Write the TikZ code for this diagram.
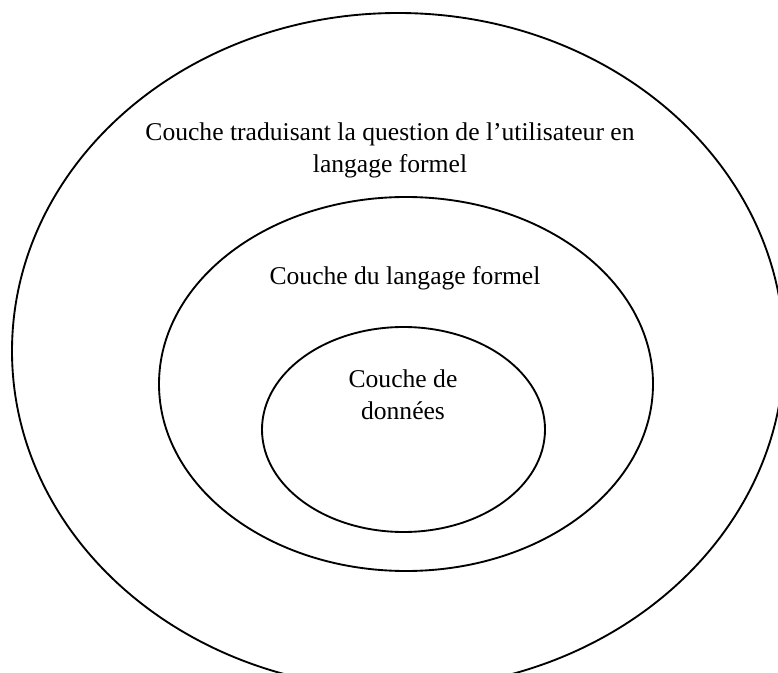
\documentclass[tikz,border=0pt]{standalone}
\usepackage{fontspec}
\setmainfont{Liberation Serif}
\usetikzlibrary{shapes.geometric}

\begin{document}
\begin{tikzpicture}[x=0.75pt,y=-0.75pt,
        layer/.style={ellipse,draw=black,line width=1.4pt,inner sep=0pt},
        label node/.style={align=center,font=\fontsize{19.2}{24}\selectfont}]

    \useasboundingbox (0,0) rectangle (778,673);
    \clip (0,0) rectangle (778,673);

    \node[layer, minimum width=579pt, minimum height=507pt] (C0) at (398,351) {};
    \node[layer, minimum width=370.5pt, minimum height=280.5pt] (C1) at (406,384) {};
    \node[layer, minimum width=212.25pt, minimum height=153.75pt] (C2) at (403.5,429.5) {};

    \node[label node] (T0) at (390,150) {Couche traduisant la question de l’utilisateur en\\langage formel};
    \node[label node, anchor=base] (T1) at (405,285) {Couche du langage formel};
    \node[label node] (T2) at (403,395) {Couche de\\données};

\end{tikzpicture}
\end{document}
